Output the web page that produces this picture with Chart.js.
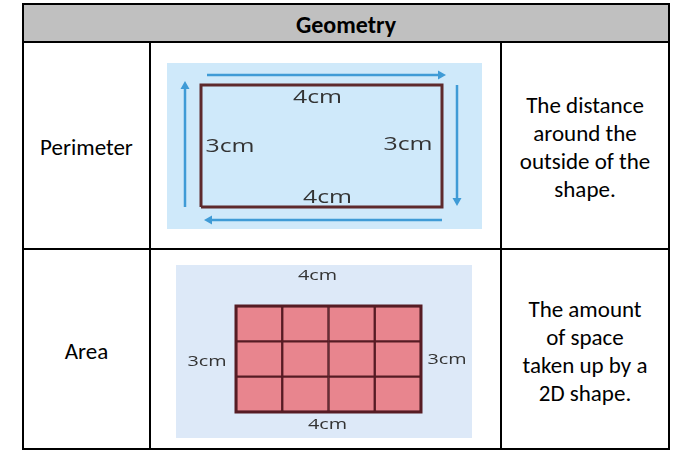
<!DOCTYPE html>
<html>
<head>
<meta charset="utf-8">
<script src="https://cdn.jsdelivr.net/npm/chart.js@4/dist/chart.umd.min.js"></script>
<style>
  html, body { margin: 0; padding: 0; background: #ffffff; }
  body { width: 675px; height: 459px; position: relative; overflow: hidden;
         font-family: Carlito, Lato, "Open Sans", sans-serif; color: #000; }
  .ln { position: absolute; background: #000; }
  .hdr { position: absolute; left: 24px; top: 5px; width: 644px; height: 36px; background: #c0c0c0;
         display: flex; align-items: center; justify-content: center; font-weight: bold; font-size: 24px;
         box-sizing: border-box; padding-top: 2px; }
  .cell { position: absolute; display: flex; align-items: center; justify-content: center;
          text-align: center; font-size: 23px; line-height: 28px; box-sizing: border-box; padding-top: 3px; }
  canvas { position: absolute; }
</style>
</head>
<body>
<div class="hdr" id="hdr"></div>
<div class="ln" style="left:22px;top:3px;width:648px;height:2px"></div>
<div class="ln" style="left:22px;top:41px;width:648px;height:2px"></div>
<div class="ln" style="left:22px;top:248px;width:648px;height:2px"></div>
<div class="ln" style="left:22px;top:448px;width:648px;height:2px"></div>
<div class="ln" style="left:22px;top:3px;width:2px;height:447px"></div>
<div class="ln" style="left:668px;top:3px;width:2px;height:447px"></div>
<div class="ln" style="left:149px;top:41px;width:2px;height:409px"></div>
<div class="ln" style="left:500px;top:41px;width:2px;height:409px"></div>
<div class="cell" id="cat0" style="left:24px;top:43px;width:125px;height:205px"></div>
<div class="cell" id="cat1" style="left:24px;top:250px;width:125px;height:198px"></div>
<div class="cell" id="desc0" style="left:502px;top:43px;width:166px;height:205px"></div>
<div class="cell" id="desc1" style="left:502px;top:250px;width:166px;height:198px"></div>
<canvas id="perim" width="315" height="166" style="left:167px;top:63px;width:315px;height:166px;background:#cfe9fa"></canvas>
<canvas id="area" width="296" height="173" style="left:176px;top:265px;width:296px;height:173px;background:#dde9f8"></canvas>
<script>
// ---- data ----
const tableTitle = "Geometry";
const categories = ["Perimeter", "Area"];
const perimeterText = ["The distance", "around the", "outside of the", "shape."];
const areaText = ["The amount", "of space", "taken up by a", "2D shape."];
const sideLengths = [4, 3];            // width, height in cm
const sideLabels = ["4cm", "3cm"];
const areaColumns = ["1", "2", "3", "4"];
const areaRow1 = [1, 1, 1, 1];
const areaRow2 = [1, 1, 1, 1];
const areaRow3 = [1, 1, 1, 1];

// ---- html text ----
document.getElementById('hdr').textContent = tableTitle;
document.getElementById('cat0').textContent = categories[0];
document.getElementById('cat1').textContent = categories[1];
document.getElementById('desc0').innerHTML = perimeterText.join('<br>');
document.getElementById('desc1').innerHTML = areaText.join('<br>');

function stretchedText(ctx, txt, x, y, size, sx) {
  ctx.save();
  ctx.translate(x, y);
  ctx.scale(sx, 1);
  ctx.font = size + 'px "Open Sans", sans-serif';
  ctx.fillStyle = '#333333';
  ctx.textAlign = 'center';
  ctx.textBaseline = 'middle';
  ctx.fillText(txt, 0, 0);
  ctx.restore();
}
function arrow(ctx, x1, y1, x2, y2) {
  const a = Math.atan2(y2 - y1, x2 - x1), h = 8, w = 4.5;
  ctx.save();
  ctx.strokeStyle = '#3f9bd6'; ctx.fillStyle = '#3f9bd6'; ctx.lineWidth = 2.5;
  ctx.beginPath();
  ctx.moveTo(x1, y1);
  ctx.lineTo(x2 - h * Math.cos(a), y2 - h * Math.sin(a));
  ctx.stroke();
  ctx.beginPath();
  ctx.moveTo(x2, y2);
  ctx.lineTo(x2 - h * Math.cos(a) - w * Math.sin(a), y2 - h * Math.sin(a) + w * Math.cos(a));
  ctx.lineTo(x2 - h * Math.cos(a) + w * Math.sin(a), y2 - h * Math.sin(a) - w * Math.cos(a));
  ctx.closePath(); ctx.fill();
  ctx.restore();
}

// ---- perimeter chart ----
const W = sideLengths[0], H = sideLengths[1];
const outline = [{x: 0, y: 0}, {x: W, y: 0}, {x: W, y: H}, {x: 0, y: H}, {x: 0, y: 0}];
new Chart(document.getElementById('perim'), {
  type: 'line',
  data: { datasets: [{ data: outline, borderColor: '#5e2a2c', borderWidth: 3, pointRadius: 0,
                        tension: 0, fill: false, clip: false }] },
  options: {
    responsive: false, animation: false, events: [],
    layout: { padding: { left: 34, right: 40, top: 22, bottom: 22 } },
    plugins: { legend: { display: false }, tooltip: { enabled: false } },
    scales: {
      x: { type: 'linear', min: 0, max: W, display: false },
      y: { type: 'linear', min: 0, max: H, display: false }
    }
  },
  plugins: [{
    id: 'perimDeco',
    afterDatasetsDraw(chart) {
      const ctx = chart.ctx, xs = chart.scales.x, ys = chart.scales.y;
      const l = xs.getPixelForValue(0), r = xs.getPixelForValue(W);
      const t = ys.getPixelForValue(H), b = ys.getPixelForValue(0);
      const mx = (l + r) / 2, my = (t + b) / 2;
      arrow(ctx, l + 6, t - 10, r + 4, t - 10);
      arrow(ctx, r + 15, t, r + 15, b - 1);
      arrow(ctx, r, b + 13, l + 3, b + 13);
      arrow(ctx, l - 16, b, l - 16, t - 4);
      stretchedText(ctx, sideLabels[0], mx - 4, t + 13, 18, 1.38);
      stretchedText(ctx, sideLabels[0], mx + 6, b - 9, 18, 1.38);
      stretchedText(ctx, sideLabels[1], l + 29, my + 1, 18, 1.38);
      stretchedText(ctx, sideLabels[1], r - 34, my - 1, 18, 1.38);
    }
  }]
});

// ---- area chart ----
const cellStyle = { backgroundColor: '#e8858e', borderColor: '#561c24', borderWidth: 1.5,
                    borderSkipped: false, barPercentage: 1, categoryPercentage: 1 };
new Chart(document.getElementById('area'), {
  type: 'bar',
  data: {
    labels: areaColumns,
    datasets: [
      Object.assign({ data: areaRow1 }, cellStyle),
      Object.assign({ data: areaRow2 }, cellStyle),
      Object.assign({ data: areaRow3 }, cellStyle)
    ]
  },
  options: {
    responsive: false, animation: false, events: [],
    layout: { padding: { left: 60, right: 51, top: 41, bottom: 26 } },
    plugins: { legend: { display: false }, tooltip: { enabled: false } },
    scales: {
      x: { stacked: true, display: false },
      y: { stacked: true, min: 0, max: 3, display: false }
    }
  },
  plugins: [{
    id: 'areaDeco',
    afterDatasetsDraw(chart) {
      const ctx = chart.ctx, a = chart.chartArea;
      const mx = (a.left + a.right) / 2, my = (a.top + a.bottom) / 2;
      ctx.save();
      ctx.strokeStyle = '#561c24'; ctx.lineWidth = 3;
      ctx.strokeRect(a.left, a.top, a.right - a.left, a.bottom - a.top);
      ctx.restore();
      stretchedText(ctx, sideLabels[0], mx - 11, a.top - 30, 15, 1.32);
      stretchedText(ctx, sideLabels[0], mx - 1, a.bottom + 13, 15, 1.32);
      stretchedText(ctx, sideLabels[1], a.left - 29, my + 3, 15, 1.32);
      stretchedText(ctx, sideLabels[1], a.right + 26, my + 1, 15, 1.32);
    }
  }]
});
</script>
</body>
</html>
